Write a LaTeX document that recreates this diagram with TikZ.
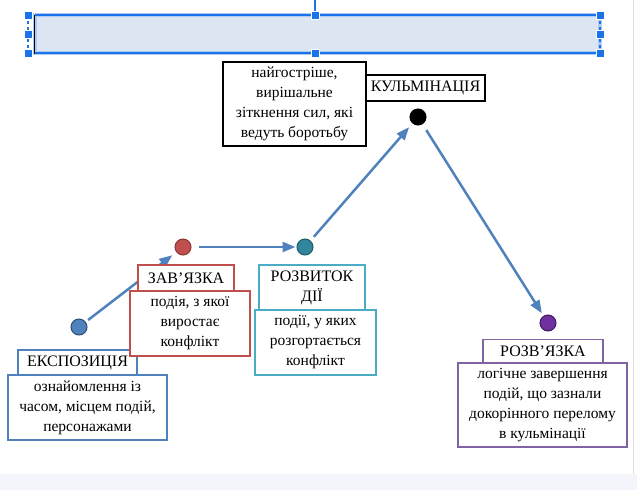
\documentclass[tikz,border=0pt]{standalone}
\usepackage{fontspec}
\setmainfont{Liberation Serif}
\newfontfamily\ukrserif{Liberation Serif}
\usetikzlibrary{arrows.meta}
\definecolor{Steel}{HTML}{4F81BD}
\definecolor{SteelDark}{HTML}{2C4D75}
\definecolor{Brick}{HTML}{C0504D}
\definecolor{BrickDark}{HTML}{8C3836}
\definecolor{Teal}{HTML}{4BACC6}
\definecolor{TealDot}{HTML}{31859C}
\definecolor{TealDark}{HTML}{215968}
\definecolor{Plum}{HTML}{8064A2}
\definecolor{PlumDot}{HTML}{7030A0}
\definecolor{PlumDark}{HTML}{3F1C5C}
\definecolor{BarFill}{HTML}{DCE6F2}
\definecolor{BarEdge}{HTML}{1A73E8}
\definecolor{BarGlow}{HTML}{AECBF5}
\definecolor{Paper}{HTML}{F3F5FA}

\begin{document}
\begin{tikzpicture}[x=1pt, y=-1pt,
    dot/.style={circle, minimum size=16pt, inner sep=0pt, line width=1pt},
    title/.style={draw, fill=white, line width=1.6pt, inner sep=0pt, align=center,
      font=\ukrserif\fontsize{16}{20}\selectfont},
    note/.style={draw, fill=white, line width=1.6pt, inner sep=0pt, align=center,
      font=\ukrserif\fontsize{15.5}{20}\selectfont},
    arrow/.style={-{Triangle[length=13pt,width=10pt]}, line width=2.5pt, draw=Steel},
    handle/.style={fill=BarEdge, draw=white, line width=0.6pt, minimum size=8pt, inner sep=0pt}
  ]
    \useasboundingbox (0,0) rectangle (637,490);
    \fill[Paper] (0,474) rectangle (637,490);
    \draw[gray!25, line width=0.8pt] (633,0) -- (633,474);

    % empty text box on top
    \fill[BarFill] (35,15) rectangle (600,53);
    \draw[BarGlow, line width=3.5pt] (35,15) rectangle (600,53);
    \draw[BarEdge, line width=1.4pt] (35,15) -- (600,15) (35,53) -- (600,53);
    \draw[BarEdge, line width=1.2pt, dashed] (28,15) -- (28,53) (600,15) -- (600,53);
    \draw[black, line width=1pt] (34,15) -- (34,54);
    \draw[BarEdge, line width=1.2pt] (315,0) -- (315,15);
    \foreach \hx/\hy in {28/15, 315/15, 600/15, 28/34, 600/34, 28/53, 315/53, 600/53}
      \node[handle] at (\hx,\hy) {};

    % stages
    \node[dot, fill=Steel, draw=SteelDark] (expo) at (79,327) {};
    \node[dot, fill=Brick, draw=BrickDark] (zav) at (183,247) {};
    \node[dot, fill=TealDot, draw=TealDark] (rozv) at (305,247) {};
    \node[dot, fill=black, draw=black] (kulm) at (418,117) {};
    \node[dot, fill=PlumDot, draw=PlumDark] (rozvyaz) at (548,323) {};

    \draw[arrow, shorten <=3pt, shorten >=5pt] (expo) -- (zav);
    \draw[arrow, shorten <=7pt, shorten >=1pt] (zav) -- (rozv);
    \draw[arrow, shorten <=5pt, shorten >=5pt] (rozv) -- (kulm);
    \draw[arrow, shorten <=7pt, shorten >=3pt] (kulm) -- (rozvyaz);

    % labels
    \node[title, draw=Steel, minimum width=119pt, minimum height=25pt] (expoT) at (77.5,362.5) {ЕКСПОЗИЦІЯ};
    \node[note, draw=Steel, minimum width=159pt, minimum height=65pt] (expoN) at (87.5,407.5)
      {ознайомлення із\\часом, місцем подій,\\персонажами};

    \node[title, draw=Brick, minimum width=96pt, minimum height=26pt] (zavT) at (186,278) {ЗАВ’ЯЗКА};
    \node[note, draw=Brick, minimum width=120pt, minimum height=65pt] (zavN) at (190,323.5)
      {подія, з якої\\виростає\\конфлікт};

    \node[title, draw=Teal, minimum width=106pt, minimum height=45pt] (rozvT) at (312,287.5) {РОЗВИТОК\\ДІЇ};
    \node[note, draw=Teal, minimum width=121pt, minimum height=65pt] (rozvN) at (315.5,342.5)
      {події, у яких\\розгортається\\конфлікт};

    \node[title, minimum width=119pt, minimum height=26pt] (kulmT) at (425.5,88) {КУЛЬМІНАЦІЯ};
    \node[note, minimum width=143pt, minimum height=84pt] (kulmN) at (294.5,104)
      {найгостріше,\\вирішальне\\зіткнення сил, які\\ведуть боротьбу};

    \node[title, draw=Plum, minimum width=120pt, minimum height=23pt] (rozvyazT) at (543,351) {РОЗВ’ЯЗКА};
    \node[note, draw=Plum, minimum width=169pt, minimum height=84pt] (rozvyazN) at (542.5,405)
      {логічне завершення\\подій, що зазнали\\докорінного перелому\\в кульмінації};
\end{tikzpicture}
\end{document}
